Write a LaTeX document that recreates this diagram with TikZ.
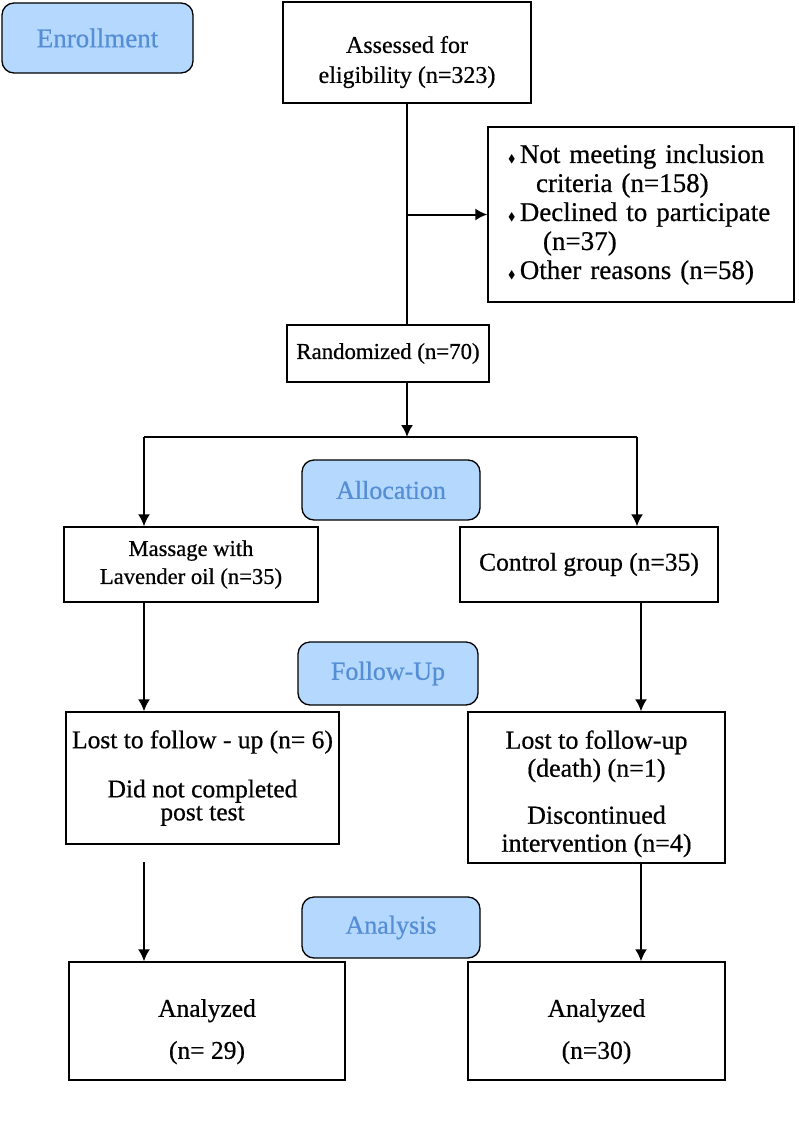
\documentclass[tikz,border=0pt]{standalone}
\usepackage{amssymb}
\usepackage{fontspec}
\setmainfont{Liberation Serif}[FakeBold=0.6]
\usetikzlibrary{arrows.meta}
\definecolor{phasefill}{RGB}{180,216,254}
\definecolor{phasetext}{RGB}{85,142,213}
\newcommand\bul{{\fontsize{11}{11}\selectfont$\blacklozenge$}\,}
\tikzset{
  fs/.style 2 args={font=\fontsize{#1}{#2}\selectfont},
  box/.style={draw=black, line width=1.3pt, inner sep=0pt, align=center, fs={23.5}{28}},
  phase/.style={draw=black, line width=1.3pt, rounded corners=12pt, fill=phasefill,
    text=phasetext, inner sep=0pt, align=center, fs={26}{30}},
  conn/.style={line width=2pt},
  arr/.style={line width=2pt, -{Latex[length=12pt,width=12pt]}},
}
\begin{document}
\begin{tikzpicture}[x=1pt,y=-1pt]
\useasboundingbox (0,0) rectangle (798,1137);
% phase labels
\node[phase, fs={27}{30}, minimum width=191pt, minimum height=70pt] (enroll) at (97.5,38) {Enrollment};
\node[phase, minimum width=178pt, minimum height=60pt] (alloc) at (391,490) {Allocation};
\node[phase, minimum width=180pt, minimum height=63pt] (follow) at (388,673.5) {Follow-Up};
\node[phase, minimum width=178pt, minimum height=61pt] (analysis) at (391,927.5) {Analysis};
% boxes
\node[box, fs={24}{30}, minimum width=248pt, minimum height=101pt] (assess) at (407,52.5)
  {\rule{0pt}{36pt}Assessed for\\eligibility (n=323)};
\node[box, fs={27}{29}, minimum width=306pt, minimum height=175pt, align=left,
  text width=290pt, inner xsep=8pt] (excl) at (641,214.5)
  {\hspace*{12pt}\bul Not meeting inclusion\\
   \hspace*{40pt}criteria (n=158)\\
   \hspace*{12pt}\bul Declined to participate\\
   \hspace*{47pt}(n=37)\\
   \hspace*{12pt}\bul Other reasons (n=58)};
\node[box, fs={22.8}{28}, minimum width=202pt, minimum height=57pt] (rand) at (388,353.5) {Randomized (n=70)};
\node[box, fs={22.6}{28}, minimum width=254pt, minimum height=75pt] (mass) at (191,564.5) {Massage with\\Lavender oil (n=35)};
\node[box, fs={25.5}{28}, minimum width=258pt, minimum height=75pt] (ctrl) at (589,564.5) {Control group (n=35)};
\node[box, fs={25.5}{23}, minimum width=273pt, minimum height=132pt] (lostl) at (202.5,778)
  {Lost to follow - up (n= 6)\\[25pt]Did not completed\\post test};
\node[box, fs={26}{28}, minimum width=257pt, minimum height=151pt] (lostr) at (596.5,787.5)
  {\rule{0pt}{31pt}Lost to follow-up\\(death) (n=1)\\[19pt]Discontinued\\intervention (n=4)};
\node[box, fs={25.5}{28}, minimum width=276pt, minimum height=118pt] (anl) at (207,1021)
  {\rule{0pt}{39pt}Analyzed\\[14pt](n= 29)};
\node[box, fs={25.5}{28}, minimum width=257pt, minimum height=118pt] (anr) at (596.5,1021)
  {\rule{0pt}{39pt}Analyzed\\[14pt](n=30)};
% coordinates
\coordinate (split) at (407,437);
\coordinate (lsplit) at (144,437);
\coordinate (rsplit) at (637,437);
\coordinate (lfu) at (144,602);
\coordinate (rfu) at (641,602);
\coordinate (lan) at (144,862);
\coordinate (ran) at (641,863);
% connectors
\draw[conn] (assess.south) -- (assess.south |- rand.north);
\draw[arr] (assess.south |- excl.west) -- (excl.west);
\draw[arr] (assess.south |- rand.south) -- (split);
\draw[conn] (lsplit) -- (rsplit);
\draw[arr] (lsplit) -- (lsplit |- mass.north);
\draw[arr] (rsplit) -- (rsplit |- ctrl.north);
\draw[arr] (lfu) -- (lfu |- lostl.north);
\draw[arr] (rfu) -- (rfu |- lostr.north);
\draw[arr] (lan) -- (lan |- anl.north);
\draw[arr] (ran) -- (ran |- anr.north);
\end{tikzpicture}
\end{document}
